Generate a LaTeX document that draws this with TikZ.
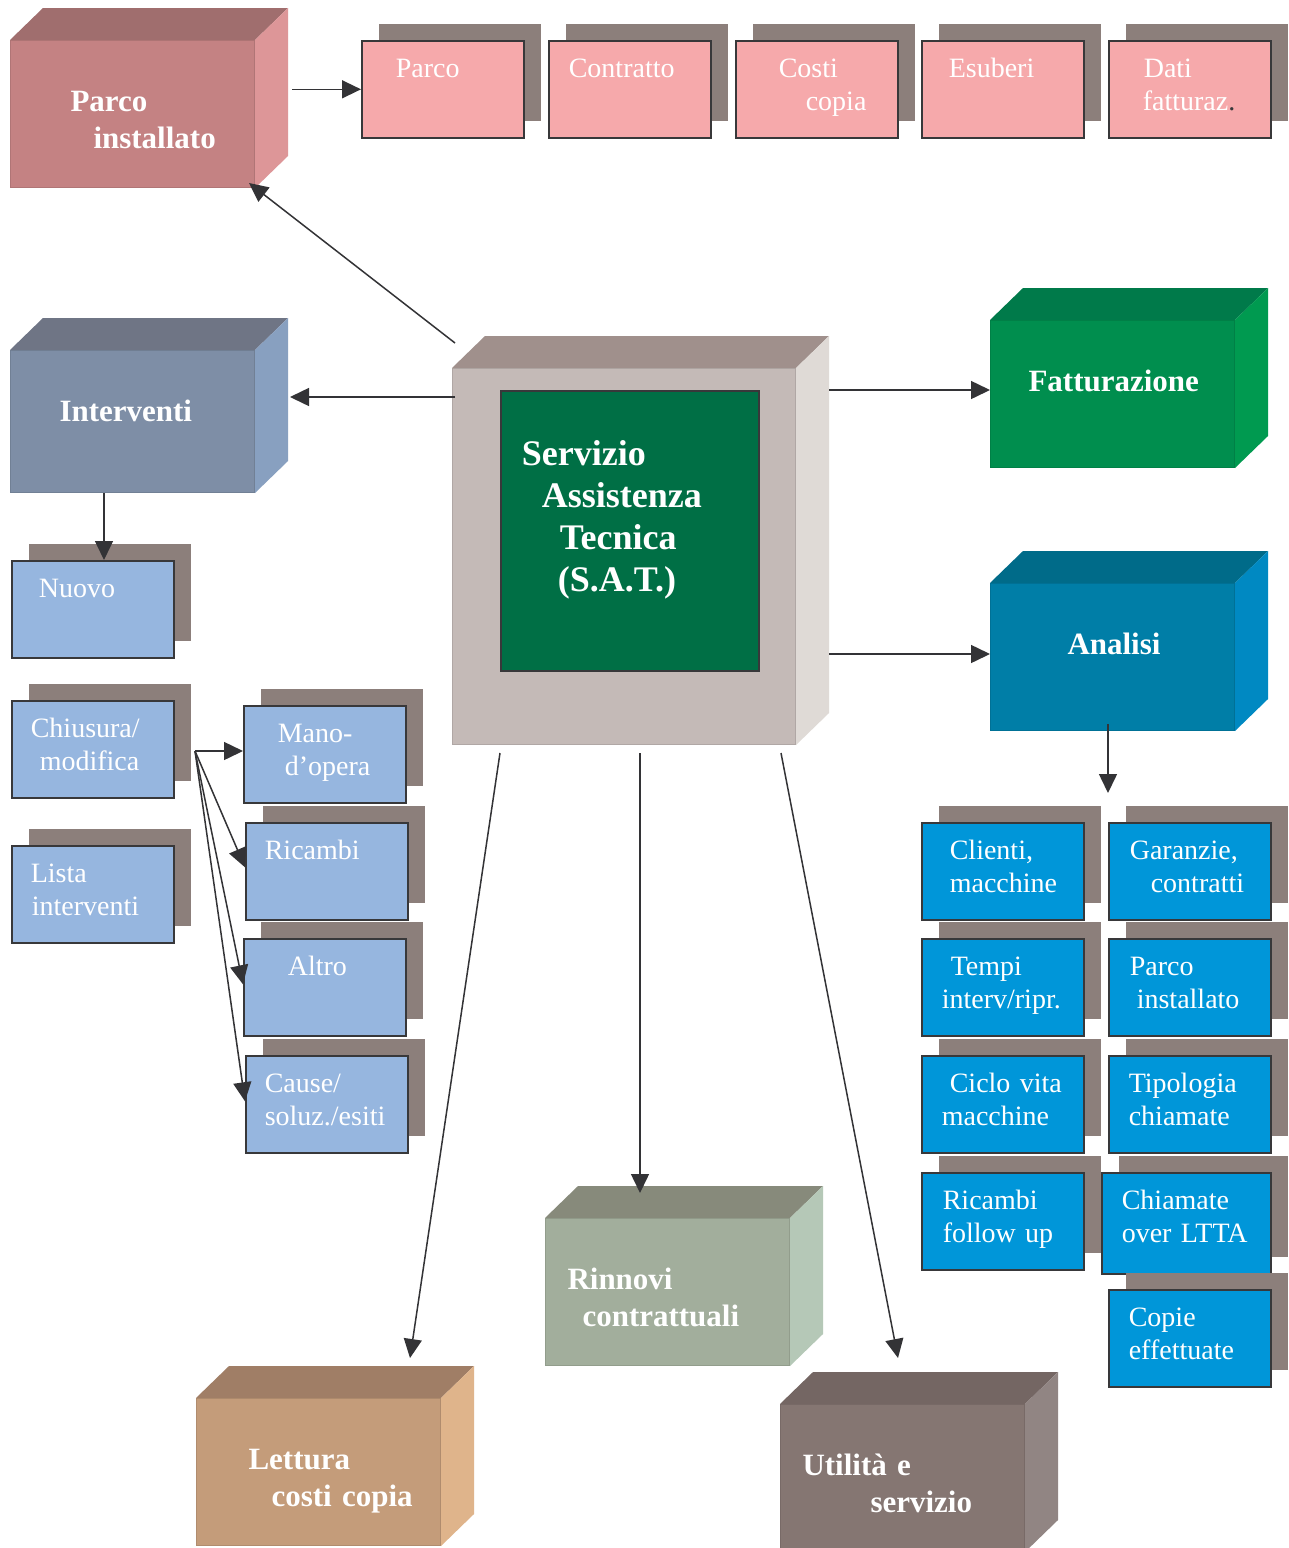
\documentclass[tikz,border=0pt]{standalone}
\usepackage{fontspec}
\setmainfont{Liberation Serif}
\usepackage{xcolor}
\usepackage{tikz}
\usetikzlibrary{arrows.meta,calc,shadows}

\definecolor{shadowgray}{HTML}{8C7F7B}
\definecolor{boxline}{HTML}{38383A}
\definecolor{arrowcol}{HTML}{333336}
\definecolor{pinkbox}{HTML}{F6A9AB}
\definecolor{bluebox}{HTML}{96B6DF}
\definecolor{anabox}{HTML}{0096D9}
\definecolor{parcoFront}{HTML}{C48283}
\definecolor{parcoTop}{HTML}{A06E6E}
\definecolor{parcoSide}{HTML}{DD9698}
\definecolor{intFront}{HTML}{7E8EA6}
\definecolor{intTop}{HTML}{6F7585}
\definecolor{intSide}{HTML}{88A0C0}
\definecolor{satFront}{HTML}{C4BAB7}
\definecolor{satTop}{HTML}{A0908C}
\definecolor{satSide}{HTML}{DFDAD6}
\definecolor{satGreen}{HTML}{006F45}
\definecolor{fattFront}{HTML}{008E4E}
\definecolor{fattTop}{HTML}{007A4A}
\definecolor{fattSide}{HTML}{009A50}
\definecolor{anaFront}{HTML}{007EA7}
\definecolor{anaTop}{HTML}{006B89}
\definecolor{anaSide}{HTML}{0089C2}
\definecolor{rinFront}{HTML}{A2AE9C}
\definecolor{rinTop}{HTML}{878A7B}
\definecolor{rinSide}{HTML}{B5C8B7}
\definecolor{letFront}{HTML}{C49C7A}
\definecolor{letTop}{HTML}{A07E66}
\definecolor{letSide}{HTML}{DFB48B}
\definecolor{utiFront}{HTML}{857672}
\definecolor{utiTop}{HTML}{746663}
\definecolor{utiSide}{HTML}{918583}

\begin{document}
\begin{tikzpicture}[x=1pt, y=-1pt]
    % Define styles
    \tikzstyle{cube} = [rectangle, anchor=north west, inner sep=0pt, text width=244pt, text height=71pt, text depth=76pt, align=left, text=white, line width=1pt, font=\bfseries\fontsize{31}{37}\selectfont]
    \tikzstyle{card} = [rectangle, anchor=north west, inner sep=0pt, text width=162pt, text height=37pt, text depth=60pt, align=left, text=white, draw=boxline, line width=1.6pt, font=\fontsize{28}{33}\selectfont, drop shadow={shadow xshift=17pt, shadow yshift=17pt, fill=shadowgray, opacity=1}]
    \tikzstyle{arr} = [draw=arrowcol, line width=1.5pt, -{Triangle[length=19pt,width=18pt]}]

    \useasboundingbox[fill=white] (0,0) rectangle (1289,1548);

    % Cubes (front faces)
    \node[cube, fill=parcoFront, draw=parcoFront!90!black] (parco) at (10,40) {\hspace*{60pt}Parco\\\hspace*{83pt}installato};
    \node[cube, fill=intFront, draw=intFront!90!black, text depth=71pt] (interventi) at (10,350) {\hspace*{49pt}Interventi};
    \node[cube, fill=satFront, draw=satFront!90!black, text width=343pt, text height=376pt, text depth=0pt] (sat) at (452,368) {};
    \node[cube, fill=fattFront, draw=fattFront!90!black] (fatt) at (990,320) {\hspace*{38pt}Fatturazione};
    \node[cube, fill=anaFront, draw=anaFront!90!black] (analisi) at (990,583) {\hspace*{77pt}Analisi};
    \node[cube, fill=rinFront, draw=rinFront!90!black] (rinnovi) at (545,1218) {\hspace*{22pt}Rinnovi\\\hspace*{37pt}contrattuali};
    \node[cube, fill=letFront, draw=letFront!90!black] (lettura) at (196,1398) {\hspace*{52pt}Lettura\\\hspace*{75pt}costi copia};
    \node[cube, fill=utiFront, draw=utiFront!90!black] (utilita) at (780,1404) {\hspace*{22pt}Utilità e\\\hspace*{90pt}servizio};

    % Cubes (top and side faces)
    \fill[parcoTop] (parco.north west) -- ++(33,-32) -- ([shift={(33,-32)}]parco.north east) -- (parco.north east) -- cycle;
    \fill[parcoSide] (parco.north east) -- ++(33,-32) -- ([shift={(33,-32)}]parco.south east) -- (parco.south east) -- cycle;
    \fill[intTop] (interventi.north west) -- ++(33,-32) -- ([shift={(33,-32)}]interventi.north east) -- (interventi.north east) -- cycle;
    \fill[intSide] (interventi.north east) -- ++(33,-32) -- ([shift={(33,-32)}]interventi.south east) -- (interventi.south east) -- cycle;
    \fill[satTop] (sat.north west) -- ++(33,-32) -- ([shift={(33,-32)}]sat.north east) -- (sat.north east) -- cycle;
    \fill[satSide] (sat.north east) -- ++(33,-32) -- ([shift={(33,-32)}]sat.south east) -- (sat.south east) -- cycle;
    \fill[fattTop] (fatt.north west) -- ++(33,-32) -- ([shift={(33,-32)}]fatt.north east) -- (fatt.north east) -- cycle;
    \fill[fattSide] (fatt.north east) -- ++(33,-32) -- ([shift={(33,-32)}]fatt.south east) -- (fatt.south east) -- cycle;
    \fill[anaTop] (analisi.north west) -- ++(33,-32) -- ([shift={(33,-32)}]analisi.north east) -- (analisi.north east) -- cycle;
    \fill[anaSide] (analisi.north east) -- ++(33,-32) -- ([shift={(33,-32)}]analisi.south east) -- (analisi.south east) -- cycle;
    \fill[rinTop] (rinnovi.north west) -- ++(33,-32) -- ([shift={(33,-32)}]rinnovi.north east) -- (rinnovi.north east) -- cycle;
    \fill[rinSide] (rinnovi.north east) -- ++(33,-32) -- ([shift={(33,-32)}]rinnovi.south east) -- (rinnovi.south east) -- cycle;
    \fill[letTop] (lettura.north west) -- ++(33,-32) -- ([shift={(33,-32)}]lettura.north east) -- (lettura.north east) -- cycle;
    \fill[letSide] (lettura.north east) -- ++(33,-32) -- ([shift={(33,-32)}]lettura.south east) -- (lettura.south east) -- cycle;
    \fill[utiTop] (utilita.north west) -- ++(33,-32) -- ([shift={(33,-32)}]utilita.north east) -- (utilita.north east) -- cycle;
    \fill[utiSide] (utilita.north east) -- ++(33,-32) -- ([shift={(33,-32)}]utilita.south east) -- (utilita.south east) -- cycle;

    % S.A.T. core
    \node[cube, fill=satGreen, draw=boxline, line width=1.6pt, text width=258pt, text height=75pt, text depth=205pt, font=\bfseries\fontsize{36}{42}\selectfont] (satcore) at (500,390) {\hspace*{21pt}Servizio\\\hspace*{41pt}Assistenza\\\hspace*{59pt}Tecnica\\\hspace*{57pt}(S.A.T.)};

    % Parco installato
    \node[card, fill=pinkbox] (pA) at (361,40) {\hspace*{34pt}Parco};
    \node[card, fill=pinkbox] (contratto) at (548,40) {\hspace*{20pt}Contratto};
    \node[card, fill=pinkbox] (costi) at (735,40) {\hspace*{43pt}Costi\\\hspace*{70pt}copia};
    \node[card, fill=pinkbox] (esuberi) at (921,40) {\hspace*{27pt}Esuberi};
    \node[card, fill=pinkbox] (dati) at (1108,40) {\hspace*{35pt}Dati\\\hspace*{34pt}fatturaz{\color{boxline}.}};

    % Interventi
    \node[card, fill=bluebox] (nuovo) at (11,560) {\hspace*{27pt}Nuovo};
    \node[card, fill=bluebox] (chiusura) at (11,700) {\hspace*{19pt}Chiusura/\\\hspace*{28pt}modifica};
    \node[card, fill=bluebox] (lista) at (11,845) {\hspace*{19pt}Lista\\\hspace*{20pt}interventi};
    \node[card, fill=bluebox] (mano) at (243,705) {\hspace*{34pt}Mano-\\\hspace*{41pt}d’opera};
    \node[card, fill=bluebox] (ricambi) at (245,822) {\hspace*{19pt}Ricambi};
    \node[card, fill=bluebox] (altro) at (243,938) {\hspace*{44pt}Altro};
    \node[card, fill=bluebox] (cause) at (245,1055) {\hspace*{19pt}Cause/\\\hspace*{19pt}soluz./esiti};

    % Analisi
    \node[card, fill=anabox] (clienti) at (921,822) {\hspace*{28pt}Clienti,\\\hspace*{28pt}macchine};
    \node[card, fill=anabox] (garanzie) at (1108,822) {\hspace*{21pt}Garanzie,\\\hspace*{42pt}contratti};
    \node[card, fill=anabox] (tempi) at (921,938) {\hspace*{29pt}Tempi\\\hspace*{20pt}interv/ripr.};
    \node[card, fill=anabox] (parcoB) at (1108,938) {\hspace*{21pt}Parco\\\hspace*{28pt}installato};
    \node[card, fill=anabox] (ciclo) at (921,1055) {\hspace*{28pt}Ciclo vita\\\hspace*{20pt}macchine};
    \node[card, fill=anabox] (tipologia) at (1108,1055) {\hspace*{20pt}Tipologia\\\hspace*{20pt}chiamate};
    \node[card, fill=anabox] (ricambiFu) at (921,1172) {\hspace*{21pt}Ricambi\\\hspace*{21pt}follow up};
    \node[card, fill=anabox, text width=169pt, text depth=64pt] (ltta) at (1101,1172) {\hspace*{20pt}Chiamate\\\hspace*{20pt}over LTTA};
    \node[card, fill=anabox] (copie) at (1108,1289) {\hspace*{20pt}Copie\\\hspace*{20pt}effettuate};

    \coordinate (fork) at (195,751);
    \coordinate (anaOut) at (1108,793);

    % Arrows
    \draw[arr] ([xshift=3pt,yshift=25pt]sat.north west) -- ([xshift=-6pt,yshift=5pt]parco.south east);
    \draw[arr] ([xshift=37pt]parco.east |- pA.west) -- (pA.west);
    \draw[arr] ([xshift=3pt,yshift=-29pt]sat.north west) -- ([xshift=35pt,yshift=-47pt]interventi.north east);
    \draw[arr] ([xshift=33pt,yshift=-22pt]sat.north east) -- ([yshift=-70pt]fatt.north west);
    \draw[arr] ([xshift=33pt,yshift=-286pt]sat.north east) -- ([yshift=-71pt]analisi.north west);
    \draw[arr] ([xshift=118pt,yshift=7pt]analisi.south west) -- (anaOut);
    \draw[arr] ([xshift=94pt]interventi.south west) -- ([xshift=93pt]nuovo.north west);
    \draw[arr] (fork) -- (fork -| mano.west);
    \draw[arr] (fork) -- ([yshift=4pt]ricambi.west);
    \draw[arr] (fork) -- ([yshift=3pt]altro.west);
    \draw[arr] (fork) -- ([yshift=3pt]cause.west);
    \draw[arr] ([xshift=48pt,yshift=-8pt]sat.south west) -- ([xshift=214pt,yshift=40pt]lettura.north west);
    \draw[arr] ([xshift=188pt,yshift=-8pt]sat.south west) -- ([xshift=95pt,yshift=25pt]rinnovi.north west);
    \draw[arr] ([xshift=329pt,yshift=-8pt]sat.south west) -- ([xshift=118pt,yshift=46pt]utilita.north west);

\end{tikzpicture}
\end{document}
